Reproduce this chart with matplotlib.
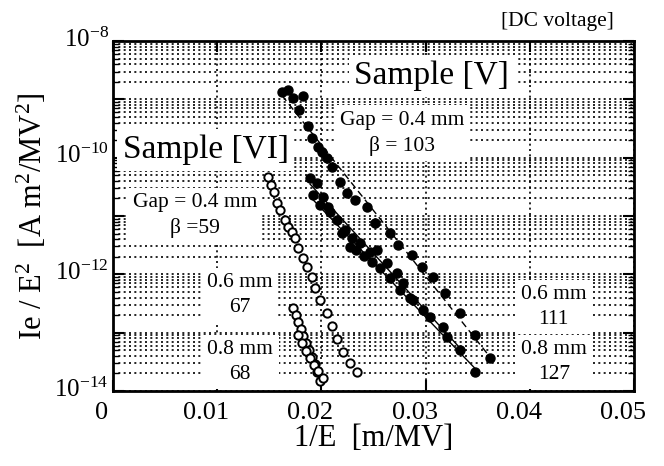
import numpy as np
import matplotlib
matplotlib.use("Agg")
import matplotlib.pyplot as plt
from matplotlib.ticker import LogLocator, FuncFormatter, NullFormatter, MultipleLocator
import matplotlib.transforms as mtransforms

plt.rcParams['font.family'] = ['Liberation Serif', 'DejaVu Serif']
plt.rcParams['mathtext.fontset'] = 'custom'
plt.rcParams['mathtext.rm'] = 'Liberation Serif'
plt.rcParams['mathtext.default'] = 'regular'

# Sample [VI] (open circles): 1/E [m/MV] and Ie/E^2
vi_04_x = [0.01488, 0.01516, 0.01545, 0.01574, 0.01603, 0.01651, 0.01679, 0.01718,
           0.01747, 0.01775, 0.01823, 0.01862, 0.01910, 0.01939, 0.01987, 0.02054,
           0.02102, 0.02150, 0.02207, 0.02274, 0.02342]
vi_04_y = [4.66e-11, 3.40e-11, 2.58e-11, 1.67e-11, 1.27e-11, 8.53e-12, 6.47e-12, 5.32e-12,
           4.20e-12, 2.83e-12, 1.91e-12, 1.34e-12, 9.0e-13, 5.82e-13, 3.63e-13, 2.17e-13,
           1.30e-13, 7.78e-14, 4.66e-14, 3.02e-14, 2.11e-14]
vi_06_x = [0.01727, 0.01756, 0.01775, 0.01804, 0.01823, 0.01852, 0.01881, 0.01910,
           0.01939, 0.01958, 0.01987]
vi_06_y = [2.65e-13, 2.01e-13, 1.52e-13, 1.16e-13, 8.77e-14, 6.65e-14, 5.05e-14, 3.83e-14,
           2.90e-14, 2.11e-14, 1.48e-14]
vi_08_x = [0.01775, 0.01814, 0.01852, 0.01891, 0.01929, 0.01967, 0.02015]
vi_08_y = [9.12e-14, 6.65e-14, 4.84e-14, 3.67e-14, 2.79e-14, 2.20e-14, 1.67e-14]

# Sample [V] (filled circles)
v_04_x = [0.01622, 0.01679, 0.01727, 0.01823, 0.01785, 0.01871, 0.01910, 0.01967,
          0.02006, 0.02054, 0.02102, 0.02179, 0.02246, 0.02322, 0.02438, 0.02514,
          0.02658, 0.02735, 0.02869, 0.02965, 0.03071, 0.03186, 0.03330, 0.03474, 0.03618]
v_04_y = [1.34e-9, 1.45e-9, 1.05e-9, 1.14e-9, 6.56e-10, 3.49e-10, 2.17e-10, 1.52e-10,
          1.25e-10, 9.87e-11, 6.92e-11, 3.83e-11, 2.48e-11, 1.88e-11, 1.43e-11, 7.58e-12,
          5.11e-12, 3.18e-12, 2.14e-12, 1.34e-12, 9.0e-13, 4.79e-13, 2.17e-13, 9.12e-14, 3.67e-14]
v_06_x = [0.01891, 0.01958, 0.02015, 0.02063, 0.02150, 0.02226, 0.02294, 0.02370,
          0.02466, 0.02534, 0.02630, 0.02726, 0.02783, 0.02879, 0.02975, 0.03167, 0.03330]
v_06_y = [4.48e-11, 3.68e-11, 2.12e-11, 1.43e-11, 8.53e-12, 5.75e-12, 4.20e-12, 3.44e-12,
          2.42e-12, 2.61e-12, 1.56e-12, 1.05e-12, 7.10e-13, 3.63e-13, 2.45e-13, 1.25e-13, 5.05e-14]
v_08_x = [0.01919, 0.01987, 0.02083, 0.02198, 0.02274, 0.02332, 0.02409, 0.02486,
          0.02562, 0.02658, 0.02754, 0.02850, 0.03042, 0.03205, 0.03474]
v_08_y = [2.29e-11, 1.54e-11, 1.17e-11, 5.11e-12, 2.94e-12, 2.61e-12, 2.06e-12, 1.63e-12,
          1.28e-12, 8.65e-13, 5.39e-13, 3.93e-13, 1.85e-13, 8.4e-14, 2.11e-14]

fig = plt.figure(figsize=(6.64, 4.66), dpi=100)
ax = fig.add_axes([0.170, 0.161, 0.785, 0.751])

ax.set_xlim(0, 0.05)
ax.set_ylim(1e-14, 1e-8)
ax.set_yscale('log')

# fitted FN lines
for xs, ys, ls in [(v_04_x, v_04_y, (0, (5, 3))), (v_06_x, v_06_y, '-'), (v_08_x, v_08_y, '-')]:
    xs = np.array(xs)
    k, b = np.polyfit(xs, np.log10(ys), 1)
    xx = np.array([xs.min(), xs.max()])
    ax.plot(xx, 10 ** (k * xx + b), color='black', lw=1.0, ls=ls, zorder=4)

for xs, ys in [(v_04_x, v_04_y), (v_06_x, v_06_y), (v_08_x, v_08_y)]:
    ax.plot(xs, ys, 'o', ms=6.5, mfc='black', mec='black', zorder=5)
for xs, ys in [(vi_04_x, vi_04_y), (vi_06_x, vi_06_y), (vi_08_x, vi_08_y)]:
    ax.plot(xs, ys, 'o', ms=6, mfc='white', mec='black', mew=1.4, zorder=5)

# axes styling
ax.xaxis.set_major_locator(MultipleLocator(0.01))
ax.xaxis.set_major_formatter(FuncFormatter(lambda v, p: '0' if abs(v) < 1e-9 else '%g' % round(v, 3)))
ax.yaxis.set_major_locator(LogLocator(base=10, numticks=20))
ax.yaxis.set_minor_locator(LogLocator(base=10, subs=np.arange(2, 10), numticks=20))
ax.yaxis.set_minor_formatter(NullFormatter())
ax.yaxis.set_major_formatter(FuncFormatter(
    lambda v, p: r'$10^{%d}$' % round(np.log10(v)) if round(np.log10(v)) % 2 == 0 else ''))

ax.tick_params(which='both', direction='in', top=True, right=True, labelsize=19)
ax.tick_params(which='major', length=8, width=1.5)
ax.tick_params(which='minor', length=4, width=1.0)
ax.tick_params(axis='x', which='major', pad=8)
ax.tick_params(axis='y', which='major', labelsize=18, pad=3)
for s in ax.spines.values():
    s.set_linewidth(2)

# shift tick labels a bit, as in the scan
xoff = mtransforms.ScaledTranslation(-11 / 100, 0, fig.dpi_scale_trans)
for lab in ax.get_xticklabels():
    lab.set_transform(lab.get_transform() + xoff)
yoff = mtransforms.ScaledTranslation(0, 4 / 100, fig.dpi_scale_trans)
for lab in ax.get_yticklabels():
    lab.set_transform(lab.get_transform() + yoff)

ax.grid(True, which='both', axis='y', color='black', lw=1.2, ls=(0, (1.2, 2.0)))
ax.grid(True, which='major', axis='x', color='black', lw=1.2, ls=(0, (1.2, 2.0)))
ax.set_axisbelow(True)

ax.set_xlabel('1/E  [m/MV]', fontsize=22, labelpad=0)
ax.set_ylabel(r'Ie / E$^2$  [A m$^2$/MV$^2$]', fontsize=22, labelpad=4)

box = dict(facecolor='white', edgecolor='none', pad=4)
ax.text(0.612, 0.900, 'Sample [V]', transform=ax.transAxes, fontsize=24,
        ha='center', va='center', bbox=box, zorder=3)
ax.text(0.178, 0.689, 'Sample [VI]', transform=ax.transAxes, fontsize=24,
        ha='center', va='center', bbox=box, zorder=3)
ax.text(0.555, 0.737, 'Gap = 0.4 mm\n\u03b2 = 103', transform=ax.transAxes, fontsize=15.5,
        ha='center', va='center', linespacing=1.4, bbox=box, zorder=3)
ax.text(0.157, 0.500, 'Gap = 0.4 mm\n\u03b2 =59', transform=ax.transAxes, fontsize=15.5,
        ha='center', va='center', linespacing=1.4, bbox=box, zorder=3)
ax.text(0.244, 0.274, '0.6 mm\n67', transform=ax.transAxes, fontsize=15.5,
        ha='center', va='center', linespacing=1.4, bbox=box, zorder=3)
ax.text(0.244, 0.083, '0.8 mm\n68', transform=ax.transAxes, fontsize=15.5,
        ha='center', va='center', linespacing=1.4, bbox=box, zorder=3)
ax.text(0.846, 0.240, '0.6 mm\n111', transform=ax.transAxes, fontsize=15.5,
        ha='center', va='center', linespacing=1.4, bbox=box, zorder=3)
ax.text(0.846, 0.083, '0.8 mm\n127', transform=ax.transAxes, fontsize=15.5,
        ha='center', va='center', linespacing=1.4, bbox=box, zorder=3)
fig.text(0.840, 0.953, '[DC voltage]', fontsize=15.5, ha='center', va='center')

fig.savefig('out.png', dpi=100)
